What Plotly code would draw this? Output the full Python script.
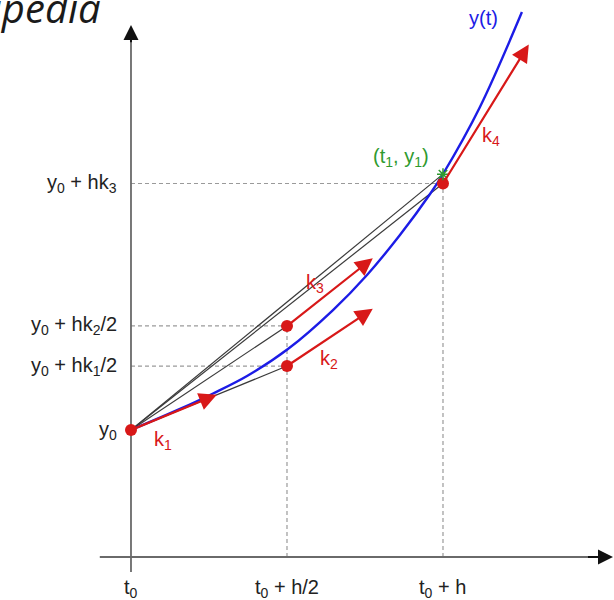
import plotly.graph_objects as go

# ---------------- data ----------------
t0 = 0.0
h = 2.0
y0 = 1.0
k_values = [0.41, 0.667, 0.79, 1.62]          # slopes k1..k4
y1 = 2.64                                      # RK4 result at t0 + h
curve_t = [0.0, 0.314, 0.526, 0.744, 1.006, 1.295, 1.513, 1.724, 1.917, 2.0, 2.237, 2.506]
curve_y = [1.0, 1.135, 1.234, 1.346, 1.519, 1.769, 1.994, 2.25, 2.513, 2.641, 3.071, 3.679]
x_tick_labels = ["t<sub>0</sub>", "t<sub>0</sub> + h/2", "t<sub>0</sub> + h"]
y_tick_labels = ["y<sub>0</sub>", "y<sub>0</sub> + hk<sub>1</sub>/2",
                 "y<sub>0</sub> + hk<sub>2</sub>/2", "y<sub>0</sub> + hk<sub>3</sub>"]
k_labels = ["k<sub>1</sub>", "k<sub>2</sub>", "k<sub>3</sub>", "k<sub>4</sub>"]
curve_label = "y(t)"
point_label = "(t<sub>1</sub>, y<sub>1</sub>)"
watermark = "Wikipedia"

# ---------------- derived points ----------------
k1, k2, k3, k4 = k_values
P = [
    (t0, y0),
    (t0 + h / 2, y0 + h * k1 / 2),
    (t0 + h / 2, y0 + h * k2 / 2),
    (t0 + h, y0 + h * k3),
]
slopes = [k1, k2, k3, k4]

# style / geometry
X_RANGE = [-0.8397, 3.0962]
Y_RANGE = [-0.0897, 3.7564]
AX_Y = 0.186         # where the horizontal axis sits
AX_X0 = -0.2
AX_X1 = 3.07
VAX_Y0 = 0.09
VAX_Y1 = 3.596
ARROW_DT = 0.55
RED = "#d81818"
BLUE = "#1c1ce6"
GREEN = "#2f9a2f"
GRAY = "#6a6a6a"
DASH = "#9a9a9a"
FONT = "Liberation Sans, Arial, sans-serif"
FS = 20

fig = go.Figure()

# dashed guide lines
for (pt, py) in P[1:]:
    fig.add_trace(go.Scatter(x=[t0, pt], y=[py, py], mode="lines",
                             line=dict(color=DASH, width=1.2, dash="4px,3px"),
                             hoverinfo="skip", showlegend=False))
for pt in [t0 + h / 2, t0 + h]:
    top = max(py for (qt, py) in P if qt == pt)
    fig.add_trace(go.Scatter(x=[pt, pt], y=[AX_Y, top], mode="lines",
                             line=dict(color=DASH, width=1.2, dash="4px,3px"),
                             hoverinfo="skip", showlegend=False))

# axes
fig.add_trace(go.Scatter(x=[AX_X0, AX_X1 - 0.05], y=[AX_Y, AX_Y], mode="lines",
                         line=dict(color=GRAY, width=1.8), hoverinfo="skip", showlegend=False))
fig.add_trace(go.Scatter(x=[t0, t0], y=[VAX_Y0, VAX_Y1 - 0.05], mode="lines",
                         line=dict(color=GRAY, width=1.8), hoverinfo="skip", showlegend=False))

# black chords from (t0, y0)
for (pt, py) in P[1:] + [(t0 + h, y1)]:
    fig.add_trace(go.Scatter(x=[t0, pt], y=[y0, py], mode="lines",
                             line=dict(color="#3a3a3a", width=1.2),
                             hoverinfo="skip", showlegend=False))

# exact solution curve
fig.add_trace(go.Scatter(x=curve_t, y=curve_y, mode="lines",
                         line=dict(color=BLUE, width=2.4, shape="spline", smoothing=1.0),
                         hoverinfo="skip", showlegend=False))

# red slope arrows
annotations = []
for (pt, py), k in zip(P, slopes):
    xe, ye = pt + ARROW_DT, py + k * ARROW_DT
    annotations.append(dict(x=xe, y=ye, ax=pt, ay=py, xref="x", yref="y",
                            axref="x", ayref="y", text="", showarrow=True,
                            arrowhead=2, arrowsize=1.6, arrowwidth=2.2,
                            arrowcolor=RED, standoff=0, startstandoff=0))

# points
fig.add_trace(go.Scatter(x=[p[0] for p in P], y=[p[1] for p in P], mode="markers",
                         marker=dict(color=RED, size=12), hoverinfo="skip", showlegend=False))
fig.add_trace(go.Scatter(x=[t0 + h], y=[y1], mode="markers",
                         marker=dict(symbol="asterisk-open", color=GREEN, size=10,
                                     line=dict(color=GREEN, width=1.5)),
                         hoverinfo="skip", showlegend=False))

# axis arrowheads
annotations.append(dict(x=AX_X1 + 0.02, y=AX_Y, ax=AX_X1 - 0.15, ay=AX_Y, xref="x", yref="y",
                        axref="x", ayref="y", text="", showarrow=True, arrowhead=2,
                        arrowsize=1.5, arrowwidth=2, arrowcolor="#111", standoff=0))
annotations.append(dict(x=t0, y=VAX_Y1, ax=t0, ay=VAX_Y1 - 0.12, xref="x", yref="y",
                        axref="x", ayref="y", text="", showarrow=True, arrowhead=2,
                        arrowsize=1.5, arrowwidth=2, arrowcolor="#111", standoff=0))

# tick labels
for (pt, py), lab in zip(P, y_tick_labels):
    annotations.append(dict(x=t0, y=py, xref="x", yref="y", text=lab, showarrow=False,
                            xanchor="right", yanchor="middle", xshift=-12,
                            font=dict(family=FONT, size=FS, color="#222")))
for pt, lab in zip([t0, t0 + h / 2, t0 + h], x_tick_labels):
    annotations.append(dict(x=pt, y=AX_Y, xref="x", yref="y", text=lab, showarrow=False,
                            xanchor="center", yanchor="top", yshift=-17,
                            font=dict(family=FONT, size=FS, color="#222")))

# k labels
k_label_pos = [(0.205, 0.93), (1.27, 1.45), (1.18, 1.94), (2.31, 2.88)]
for (lx, ly), lab in zip(k_label_pos, k_labels):
    annotations.append(dict(x=lx, y=ly, xref="x", yref="y", text=lab, showarrow=False,
                            xanchor="center", yanchor="middle",
                            font=dict(family=FONT, size=FS, color=RED)))

annotations.append(dict(x=2.26, y=3.64, xref="x", yref="y", text=curve_label, showarrow=False,
                        xanchor="center", yanchor="middle",
                        font=dict(family=FONT, size=FS, color=BLUE)))
annotations.append(dict(x=1.73, y=2.75, xref="x", yref="y", text=point_label, showarrow=False,
                        xanchor="center", yanchor="middle",
                        font=dict(family=FONT, size=FS, color=GREEN)))

annotations.append(dict(x=103 / 614, y=1 - 7.5 / 600, xref="paper", yref="paper",
                        text="<i>" + watermark + "</i>", showarrow=False,
                        xanchor="right", yanchor="middle",
                        font=dict(family="Open Sans, sans-serif", size=40, color="#1a1a1a")))

fig.update_layout(
    width=614, height=600,
    margin=dict(l=0, r=0, t=0, b=0),
    paper_bgcolor="white", plot_bgcolor="white",
    xaxis=dict(range=X_RANGE, visible=False, fixedrange=True),
    yaxis=dict(range=Y_RANGE, visible=False, fixedrange=True),
    annotations=annotations,
    showlegend=False,
)

fig.write_html("out.html")
